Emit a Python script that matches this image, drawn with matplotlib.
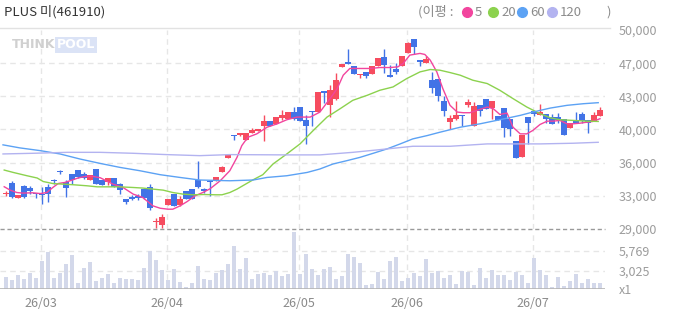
import matplotlib
matplotlib.use("Agg")
import matplotlib.pyplot as plt
from matplotlib.lines import Line2D

plt.rcParams["font.family"] = ["Noto Sans CJK KR", "DejaVu Sans"]

# ---- data ----
title = "PLUS 미(461910)"

opens = [32710, 33880, 32290, 33560, 33350, 32820, 32710, 33460, 34140, 35100,
         33990, 34830, 35260, 34830, 34200, 35360, 34200, 33990, 34410, 33770,
         32180, 32390, 32500, 33240, 33460, 29740, 29430, 31550, 32710, 31550,
         33030, 33240, 34200, 33240, 34090, 34090, 35050, 36530, 38920, 38920,
         38440, 39180, 39290, 39920, 40350, 40030, 40670, 40560, 41300, 41830,
         40460, 41410, 41300, 43530, 42050, 42680, 46080, 46610, 46180, 45230,
         45550, 45330, 46180, 47140, 45230, 45860, 46180, 47560, 49050, 46820,
         46500, 44700, 44800, 42470, 40240, 40560, 40990, 42050, 39920, 42050,
         42680, 41730, 40880, 41730, 40560, 38330, 36640, 40770, 41410, 40990,
         41090, 40770, 40770, 40560, 39710, 40460, 41090, 40460, 40350, 40880]
closes = [32820, 32390, 32610, 32390, 33030, 32660, 32610, 32710, 34040, 34990,
          33350, 34200, 34520, 34410, 34730, 33770, 33670, 34410, 33460, 33140,
          31860, 32180, 32290, 32290, 31230, 29800, 30270, 32180, 31440, 32180,
          32180, 32180, 33460, 32980, 33990, 34520, 35580, 36850, 38810, 39080,
          39080, 39450, 39500, 40350, 39920, 40770, 40990, 41300, 40560, 40350,
          39920, 41300, 43420, 43320, 43640, 44700, 46390, 46390, 45330, 45330,
          45120, 46180, 47030, 46290, 45070, 45550, 47240, 48670, 48200, 46610,
          46920, 43850, 43000, 41410, 40670, 40990, 40880, 42360, 41940, 41410,
          41620, 42470, 40460, 39710, 39500, 36530, 38970, 40140, 41090, 41300,
          40560, 40030, 40460, 38970, 40140, 40140, 40350, 40140, 40990, 41520]
highs = [33030, 34090, 32610, 33670, 33560, 32820, 33460, 33770, 34300, 35260,
         34200, 34830, 35260, 35050, 34730, 35360, 34200, 34410, 34410, 33880,
         32180, 32610, 32710, 33350, 33770, 30170, 30590, 32180, 32710, 32500,
         33030, 33240, 36210, 33350, 34090, 34520, 35680, 36960, 38970, 39180,
         39180, 39610, 39550, 40990, 40350, 40770, 41520, 41300, 41830, 41830,
         40990, 41410, 43420, 43530, 44170, 45440, 46390, 47990, 46180, 45390,
         45550, 46180, 47030, 47990, 46290, 46500, 47240, 48730, 49050, 46820,
         47240, 45550, 44800, 43000, 40990, 42470, 40990, 42680, 42360, 42050,
         42680, 42470, 40880, 41730, 40560, 38330, 38970, 40770, 41410, 42150,
         41090, 41090, 41200, 40560, 40140, 41300, 41300, 40460, 41300, 41830]
lows = [32500, 32290, 32290, 32290, 32710, 32290, 31650, 31860, 33770, 34830,
        32390, 33770, 34410, 34300, 34200, 33770, 33670, 33670, 33460, 32710,
        31650, 32080, 32080, 32180, 31020, 29110, 29110, 31550, 31440, 31440,
        32180, 32180, 33350, 32820, 32500, 34090, 35050, 36530, 38440, 38860,
        38440, 39080, 39290, 38330, 39920, 40030, 40460, 40560, 40460, 40350,
        38020, 39920, 41300, 42260, 40770, 42580, 46080, 46390, 45330, 44910,
        44910, 45330, 46180, 45440, 45070, 45330, 46180, 47560, 47460, 46180,
        46500, 43320, 42470, 40880, 39500, 40460, 39820, 41830, 39820, 40880,
        41620, 40560, 40460, 38760, 38860, 36530, 36640, 38020, 40880, 40990,
        40140, 40030, 40140, 38970, 39710, 40140, 40140, 39180, 40350, 40880]
volumes = [2200, 1790, 2480, 1930, 2750, 2060, 4400, 5670, 2060, 2750,
           3990, 5220, 1380, 3440, 4260, 1650, 2060, 2610, 1380, 2060,
           1930, 1930, 1790, 3440, 5770, 4530, 3160, 1790, 3300, 1520,
           830, 1380, 3710, 1930, 1790, 2750, 3160, 3990, 6460, 3300,
           4810, 1930, 2610, 2750, 2480, 3030, 2340, 2610, 8420, 2610,
           5360, 3300, 2480, 3300, 3570, 1930, 2340, 5360, 4950, 4120,
           1100, 1240, 2890, 1930, 4400, 4950, 1650, 2060, 2750, 2340,
           4670, 2750, 3030, 2060, 2480, 1240, 3030, 2890, 1100, 3440,
           2060, 3160, 2480, 2480, 1790, 2890, 2480, 1380, 4810, 3160,
           2480, 830, 2200, 970, 1650, 2610, 1380, 1930, 1380, 1380]

# moving averages: (candle index, value) pairs
ma5_idx = [-0.3, 0.7, 1.8, 2.8, 4.5, 5.7, 6.8, 7.8, 8.7, 9.8, 11, 12, 13.2, 14.5, 15.7,
           17.8, 19.5, 21.2, 22.8, 24.5, 25.7, 27, 27.8, 29, 30.2, 31.5, 32.8, 34, 35.7,
           37.3, 38.5, 39.3, 40.3, 41.8, 43.5, 45.2, 46.8, 48.5, 50.7, 52.3, 54, 55.2,
           56.2, 57.3, 59, 60.7, 62.3, 64, 65.3, 66.2, 67.3, 69, 69.8, 70.7, 71.8, 72.8,
           74, 75.2, 76.2, 77.3, 78.5, 80.2, 81.2, 82.3, 83.5, 84.5, 85.7, 86.8, 87.8,
           89, 90.2, 91.2, 92.3, 93.5, 94.5, 95.7, 96.8, 97.8, 99]
ma5_val = [33460, 33100, 32850, 32790, 32820, 32740, 32850, 33380, 33800, 33910, 34160,
           34380, 34550, 34550, 34410, 33740, 33380, 32680, 32320, 31440, 31190, 31090,
           31090, 31440, 31900, 32500, 32850, 33240, 34090, 35150, 36560, 37800, 38680,
           39040, 39740, 40100, 40530, 40810, 40810, 41330, 42760, 43820, 45230, 45940,
           45940, 45940, 46040, 46040, 46110, 46470, 47350, 47530, 47420, 46820, 45580,
           43820, 42050, 41340, 41270, 41270, 41520, 41870, 41700, 41090, 41230, 39740,
           39040, 39040, 39400, 40030, 40380, 40380, 40460, 40100, 40100, 40170, 40270,
           40350, 40640]
ma20_idx = [-0.3, 1.2, 3.5, 5.2, 6.2, 7.8, 9.3, 11.2, 13.5, 15.2, 19, 21.2, 22.8, 24.5,
            26.2, 27.8, 29.5, 31.2, 33, 35, 36, 37.3, 38.5, 41.2, 42.8, 44.5, 46.8, 49,
            51.2, 53.5, 55.7, 57.8, 60.2, 62.3, 64.5, 66.8, 69, 70.7, 72.3, 74, 75.7,
            77.8, 80.2, 82.3, 84.5, 86.8, 89, 90.7, 92.3, 94.5, 96.8, 98.7]
ma20_val = [35220, 34970, 34620, 34380, 34010, 33800, 33740, 33670, 33560, 33450, 33450,
            33380, 33320, 33210, 33100, 32850, 32680, 32610, 32640, 32610, 32610, 32850,
            33210, 34200, 34730, 35860, 36920, 37980, 39390, 40810, 41700, 42580, 43110,
            43640, 43990, 44880, 45580, 45830, 45760, 45510, 45230, 44700, 44350, 43640,
            42760, 41870, 41170, 40740, 40530, 40460, 40380, 40350]
ma60_idx = [-0.5, 2.3, 5.7, 9, 12.3, 15.7, 19, 22.3, 25.7, 29, 32.3, 37.3, 41.2, 43.5,
            46.8, 50.2, 52.3, 54.5, 56.8, 59, 61.2, 63.5, 65.7, 67.8, 70.2, 72.3, 75.7,
            79, 82.3, 85.7, 87.8, 90.7, 93.5, 96.2, 98.7]
ma60_val = [37880, 37560, 37270, 36920, 36390, 35920, 35500, 35150, 34730, 34440, 34170,
            34090, 34170, 34440, 34620, 34970, 35330, 35860, 36210, 36560, 36990, 37450,
            37980, 38510, 38860, 39210, 39740, 40100, 40530, 40990, 41340, 41760, 42050,
            42220, 42330]
ma120_idx = [-0.5, 4.5, 10.2, 15.7, 21.2, 26.8, 32.3, 37.3, 46.8, 52.3, 57.8, 63.5,
             67.8, 74, 80.2, 89, 94.5, 98.7]
ma120_val = [36920, 36990, 37090, 37090, 36990, 36850, 36740, 36850, 36820, 36820,
             37090, 37450, 37730, 37730, 37980, 37980, 38050, 38150]

month_start = [6, 27, 49, 67, 88]
month_labels = ["26/03", "26/04", "26/05", "26/06", "26/07"]

price_ticks = [29000, 32500, 36000, 39500, 43000, 46500, 50000]
price_tick_labels = ["29,000", "33,000", "36,000", "40,000", "43,000", "47,000", "50,000"]
vol_ticks = [555, 3025, 5769]
vol_tick_labels = ["x1", "3,025", "5,769"]

ma_periods = ["5", "20", "60", "120"]

# ---- style ----
UP, DOWN = "#f64c5f", "#4273e6"
MA_COLORS = ["#f2459e", "#8cd24e", "#5ca2f4", "#b3b3f0"]
GRID = "#e6e6e6"
W, H = 673, 315


def fx(x):
    return x / W


def fy(y):
    return 1 - y / H


fig = plt.figure(figsize=(W / 100, H / 100), dpi=100)
ax = fig.add_axes([0, fy(229), fx(605), (229 - 30) / H])
axv = fig.add_axes([0, fy(289), fx(605), (289 - 231) / H])

n = len(closes)
xs = list(range(n))
xlim = (-1, 99.83)

# candles
for i in xs:
    up = closes[i] >= opens[i]
    col = UP if up else DOWN
    ax.vlines(i, lows[i], highs[i], color=col, lw=1)
    lo, hi = min(opens[i], closes[i]), max(opens[i], closes[i])
    ax.bar(i, max(hi - lo, 90), bottom=lo, width=0.84, color=col, linewidth=0)

# moving averages
for (mx, my), c in zip([(ma5_idx, ma5_val), (ma20_idx, ma20_val),
                        (ma60_idx, ma60_val), (ma120_idx, ma120_val)], MA_COLORS):
    ax.plot(mx, my, color=c, lw=1, zorder=3)

ax.set_xlim(*xlim)
ax.set_ylim(price_ticks[0], price_ticks[-1])
for t in price_ticks[1:-1]:
    ax.axhline(t, color=GRID, lw=1, ls=(0, (4, 3)), zorder=0)
ax.axhline(price_ticks[0], color="#9a9a9a", lw=1, ls=(0, (3, 2)), zorder=0, clip_on=False)
ax.yaxis.tick_right()
ax.set_yticks(price_ticks)
ax.set_yticklabels(price_tick_labels)
ax.tick_params(axis="y", length=0, pad=10, labelsize=9, labelcolor="#9c9c9c")
ax.set_xticks([])

# volume
axv.bar(xs, volumes, width=0.82, color="#d3d8ea", linewidth=0)
axv.set_xlim(*xlim)
axv.set_ylim(vol_ticks[0], 8513)
for t in vol_ticks[1:]:
    axv.axhline(t, color=GRID, lw=1, ls=(0, (4, 3)), zorder=0)
axv.axhline(vol_ticks[0], color="#b5b5b5", lw=1.2, zorder=3)
axv.yaxis.tick_right()
axv.set_yticks(vol_ticks)
axv.set_yticklabels(vol_tick_labels)
axv.tick_params(axis="y", length=0, pad=10, labelsize=9, labelcolor="#9c9c9c")
month_pos = [m - 0.25 for m in month_start]
axv.set_xticks(month_pos)
axv.set_xticklabels(month_labels)
axv.tick_params(axis="x", length=0, pad=6, labelsize=9, labelcolor="#8a8a8a")

for a in (ax, axv):
    for s in a.spines.values():
        s.set_visible(False)
    a.set_facecolor("none")
    for m in month_pos:
        a.axvline(m, color=GRID, lw=1, ls=(0, (4, 3)), zorder=0)

# header
fig.add_artist(Line2D([0, fx(610)], [fy(28), fy(28)], color="#e2e2e2", lw=1))
fig.text(fx(4), fy(12), title, fontsize=9.5, color="#333333", va="center", ha="left")
fig.text(fx(418), fy(12), "(이평 :", fontsize=9.5, color="#8c8c8c", va="center")
legend_x = [467, 493, 522, 552]
for lx, lab, c in zip(legend_x, ma_periods, MA_COLORS):
    fig.add_artist(Line2D([fx(lx)], [fy(12)], marker="o", ms=7, color=c, mec=c, lw=0))
    fig.text(fx(lx + 8), fy(12), lab, fontsize=9.5, color="#8c8c8c", va="center")
fig.text(fx(606), fy(12), ")", fontsize=9.5, color="#8c8c8c", va="center")

# watermark
fig.text(fx(12), fy(45), "THINK", fontsize=9, fontweight="bold", color="#d0d0d0",
         va="center", family="DejaVu Sans")
fig.text(fx(57), fy(45), "POOL", fontsize=9, fontweight="bold", color="white",
         va="center", family="DejaVu Sans",
         bbox=dict(boxstyle="square,pad=0.15", fc="#dbe3f6", ec="none"))

fig.savefig("out.png", dpi=100)
